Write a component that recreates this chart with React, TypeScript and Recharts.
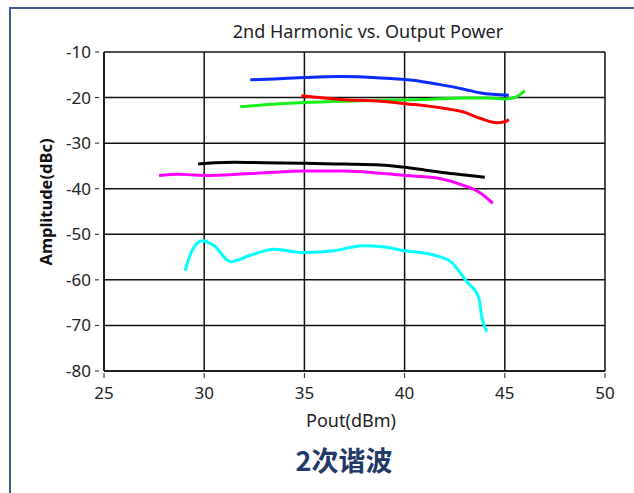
import React from 'react';
import { LineChart, Line, XAxis, YAxis, CartesianGrid } from 'recharts';

// values (Pout dBm, amplitude dBc)
const xTicks = [25, 30, 35, 40, 45, 50];
const yTicks = [-80, -70, -60, -50, -40, -30, -20, -10];

const blueSeries = [
  { x: 32.3, y: -16.1 }, { x: 33.5, y: -15.9 }, { x: 35, y: -15.6 }, { x: 36.8, y: -15.4 },
  { x: 38.8, y: -15.7 }, { x: 40.4, y: -16.2 }, { x: 41.7, y: -17.1 }, { x: 42.9, y: -18.1 },
  { x: 43.8, y: -19.0 }, { x: 45.2, y: -19.5 },
];
const greenSeries = [
  { x: 31.8, y: -22.0 }, { x: 33, y: -21.6 }, { x: 35, y: -21.1 }, { x: 37, y: -20.8 },
  { x: 39, y: -20.6 }, { x: 41, y: -20.4 }, { x: 43, y: -20.1 }, { x: 44.2, y: -20.1 },
  { x: 45, y: -20.3 }, { x: 45.5, y: -20.0 }, { x: 46, y: -18.5 },
];
const redSeries = [
  { x: 34.85, y: -19.6 }, { x: 36.8, y: -20.4 }, { x: 38.8, y: -20.8 }, { x: 40.4, y: -21.5 },
  { x: 42, y: -22.4 }, { x: 42.9, y: -23.1 }, { x: 43.8, y: -24.6 }, { x: 44.6, y: -25.5 },
  { x: 45, y: -25.3 }, { x: 45.2, y: -24.8 },
];
const blackSeries = [
  { x: 29.7, y: -34.6 }, { x: 30.5, y: -34.3 }, { x: 31.5, y: -34.2 }, { x: 33, y: -34.3 },
  { x: 35, y: -34.4 }, { x: 37, y: -34.6 }, { x: 38.8, y: -34.8 }, { x: 40, y: -35.3 },
  { x: 41, y: -35.9 }, { x: 42, y: -36.5 }, { x: 43, y: -37.0 }, { x: 44, y: -37.5 },
];
const magentaSeries = [
  { x: 27.75, y: -37.1 }, { x: 28.7, y: -36.8 }, { x: 29.5, y: -37.0 }, { x: 30.3, y: -37.1 },
  { x: 31.5, y: -36.9 }, { x: 33, y: -36.5 }, { x: 35, y: -36.1 }, { x: 37, y: -36.1 },
  { x: 38.8, y: -36.6 }, { x: 40.4, y: -37.2 }, { x: 41.8, y: -37.8 }, { x: 42.9, y: -39.2 },
  { x: 43.8, y: -41.0 }, { x: 44.4, y: -43.2 },
];
const cyanSeries = [
  { x: 29.05, y: -58.0 }, { x: 29.4, y: -53.5 }, { x: 29.9, y: -51.4 }, { x: 30.5, y: -52.5 },
  { x: 31.3, y: -56.0 }, { x: 32.3, y: -54.6 }, { x: 33.5, y: -53.3 }, { x: 35, y: -54.0 },
  { x: 36.5, y: -53.6 }, { x: 37.9, y: -52.5 }, { x: 39, y: -52.8 }, { x: 40, y: -53.6 },
  { x: 41.4, y: -54.5 }, { x: 42.3, y: -56.0 }, { x: 43.1, y: -60.4 }, { x: 43.7, y: -63.8 },
  { x: 43.85, y: -68.1 }, { x: 44.1, y: -71.4 },
];

const font = '"Noto Sans", "Open Sans", sans-serif';

const YTick = ({ x, y, payload }: { x: number; y: number; payload: { value: number } }) => (
  <g>
    <line x1={x - 9} x2={x - 5} y1={y} y2={y} stroke="#222" strokeWidth={1} />
    <text x={x - 13} y={y} dy={6} textAnchor="end" fontSize={17} fill="#222" fontFamily={font}>
      {payload.value}
    </text>
  </g>
);

const XTick = ({ x, y, payload }: { x: number; y: number; payload: { value: number } }) => (
  <g>
    <line x1={x} x2={x} y1={y + 2} y2={y + 7} stroke="#222" strokeWidth={1} />
    <text x={x} y={y + 28} textAnchor="middle" fontSize={17} fill="#222" fontFamily={font}>
      {payload.value}
    </text>
  </g>
);

const series = [
  { data: blueSeries, color: '#0a2cff' },
  { data: greenSeries, color: '#18f018' },
  { data: redSeries, color: '#ff0000' },
  { data: blackSeries, color: '#000000' },
  { data: magentaSeries, color: '#ff00ff' },
  { data: cyanSeries, color: '#00ffff' },
];

export default function App() {
  return (
    <div style={{ position: 'absolute', left: 0, top: 0, width: 634, height: 493, background: '#fff', overflow: 'hidden' }}>
      <div style={{ position: 'absolute', left: 9, top: 7, width: 640, height: 500, borderLeft: '2px solid #3d5f8c', borderTop: '2px solid #3d5f8c' }} />
      <div style={{ position: 'absolute', left: 208, top: 19, width: 320, textAlign: 'center', fontFamily: font, fontSize: 18, color: '#222' }}>
        2nd Harmonic vs. Output Power
      </div>
      <LineChart width={634} height={493} margin={{ top: 52, right: 29, left: 0, bottom: 92 }} style={{ position: 'absolute', left: 0, top: 0 }}>
        <CartesianGrid stroke="#111" strokeWidth={1.5} />
        <XAxis type="number" dataKey="x" domain={[25, 50]} ticks={xTicks} allowDataOverflow height={30}
          axisLine={{ stroke: '#111', strokeWidth: 1.5 }} tickLine={false} tickSize={0} tickMargin={0} tick={XTick} interval={0} />
        <YAxis type="number" dataKey="y" domain={[-80, -10]} ticks={yTicks} allowDataOverflow width={104}
          axisLine={{ stroke: '#111', strokeWidth: 1.5 }} tickLine={false} tickSize={0} tickMargin={0} tick={YTick} interval={0} />
        {series.map((s, i) => (
          <Line key={i} data={s.data} dataKey="y" type="monotone" stroke={s.color} strokeWidth={3}
            dot={false} activeDot={false} isAnimationActive={false} />
        ))}
      </LineChart>
      <div style={{ position: 'absolute', left: 46, top: 202, width: 0, height: 0 }}>
        <div style={{ position: 'absolute', left: -90, top: -11, width: 180, textAlign: 'center', transform: 'rotate(-90deg)', fontFamily: font, fontWeight: 700, fontSize: 16.5, color: '#111', lineHeight: '22px' }}>
          Amplitude(dBc)
        </div>
      </div>
      <div style={{ position: 'absolute', left: 251, top: 408, width: 200, textAlign: 'center', fontFamily: font, fontSize: 18, color: '#222' }}>
        Pout(dBm)
      </div>
      <div style={{ position: 'absolute', left: 244, top: 440, width: 200, textAlign: 'center', fontFamily: '"Noto Sans CJK SC", sans-serif', fontWeight: 700, fontSize: 27, color: '#1f3a68' }}>
        2次谐波
      </div>
    </div>
  );
}
